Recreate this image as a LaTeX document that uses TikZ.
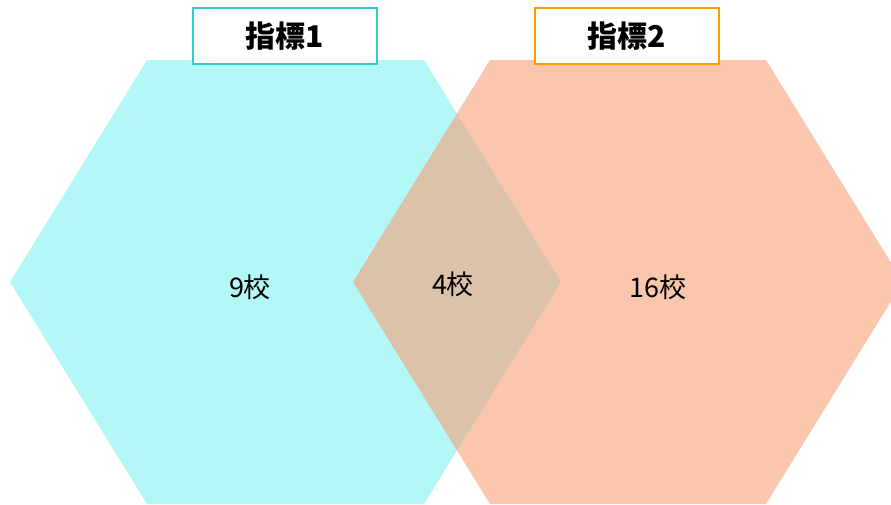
\documentclass[tikz,border=0pt]{standalone}
\usepackage{fontspec}
\setmainfont{Noto Sans CJK JP}
\begin{document}
\begin{tikzpicture}[x=1pt,y=-1pt,
  hexcyan/.style={fill={rgb,255:red,180;green,247;blue,247}},
  hexorange/.style={fill={rgb,255:red,246;green,160;blue,118},fill opacity=0.6},
  titlebox/.style={draw,line width=2pt,fill=white,minimum width=184pt,minimum height=56pt,inner sep=0pt,font=\fontsize{30}{32}\selectfont\bfseries},
  count/.style={font=\fontsize{27}{29}\selectfont,inner sep=0pt}]
\useasboundingbox (0,0) rectangle (891,504);
\clip (0,0) rectangle (891,504);
% hexagons
\fill[hexcyan] (10,282) -- (147,60) -- (424,60) -- (561,282) -- (424,504) -- (147,504) -- cycle;
\fill[hexorange] (353,282) -- (490,60) -- (766,60) -- (903,282) -- (766,504) -- (490,504) -- cycle;
% title boxes
\node[titlebox,draw={rgb,255:red,51;green,204;blue,204}] (t1) at (285,36) {指標1};
\node[titlebox,draw={rgb,255:red,255;green,153;blue,0}] (t2) at (626.5,36) {指標2};
% counts
\node[count] (a) at (250,287) {9校};
\node[count] (b) at (453,284) {4校};
\node[count] (c) at (658,287) {16校};
\end{tikzpicture}
\end{document}
